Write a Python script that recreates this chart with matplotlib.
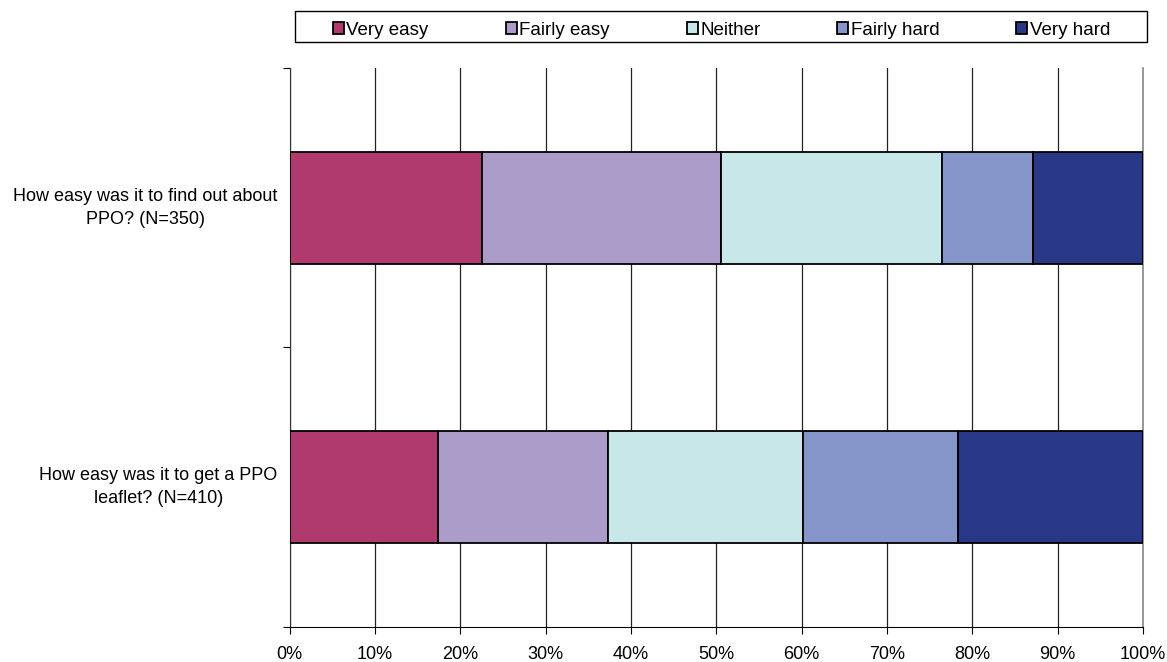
import matplotlib.pyplot as plt
from matplotlib.patches import Rectangle
import numpy as np

# survey responses, share of respondents (%)
questions = [
    "How easy was it to find out about\nPPO? (N=350)",
    "How easy was it to get a PPO\nleaflet? (N=410)",
]
answers = ["Very easy", "Fairly easy", "Neither", "Fairly hard", "Very hard"]
very_easy = [22.6, 17.4]
fairly_easy = [27.9, 19.9]
neither = [26.0, 22.9]
fairly_hard = [10.6, 18.1]
very_hard = [12.9, 21.7]
colors = ["#b03a6e", "#ac9cca", "#c8e7e9", "#8594c9", "#283886"]
xticks = np.arange(0, 101, 10)

plt.rcParams.update({
    "font.family": ["Liberation Sans", "DejaVu Sans"],
    "font.size": 13,
})

W, H = 1167, 662
fig = plt.figure(figsize=(W / 100, H / 100), dpi=100)
ax = fig.add_axes([289.5 / W, 0.0529, (1143 - 289.5) / W, 0.8444])

series = [very_easy, fairly_easy, neither, fairly_hard, very_hard]
ypos = np.arange(len(questions))
left = np.zeros(len(questions))
for name, vals, c in zip(answers, series, colors):
    ax.barh(ypos, vals, left=left, height=0.4, color=c,
            edgecolor="black", linewidth=1.3, label=name, zorder=3)
    left += np.array(vals)

ax.set_xlim(0, 100)
ax.set_ylim(len(questions) - 0.5, -0.5)
ax.set_xticks(xticks, labels=[f"{v}%" for v in xticks])
ax.set_yticks(np.arange(-0.5, len(questions)), labels=[])
ax.tick_params(axis="y", length=5, direction="out")
ax.tick_params(axis="x", length=5, direction="out", pad=9, labelsize=13)
ax.xaxis.grid(True, color="#222222", linewidth=0.9, zorder=0)

ax.spines["top"].set_visible(False)
ax.spines["right"].set_color("#888888")
ax.spines["right"].set_linewidth(1.2)
ax.spines["left"].set_color("#333333")
ax.spines["bottom"].set_color("black")

for y, q in zip(ypos, questions):
    ax.text(-0.014, y, q, transform=ax.get_yaxis_transform(),
            ha="right", va="center", multialignment="center",
            fontsize=13, linespacing=1.45)

# legend frame spans wider than the entries themselves
fig.patches.append(Rectangle((294.7 / W, 1 - 41.7 / H), (1147 - 294.7) / W,
                             30.7 / H, transform=fig.transFigure,
                             facecolor="white", edgecolor="black",
                             linewidth=1.0))
leg = fig.legend(loc="center left",
                 bbox_to_anchor=(333 / W, 1 - 30.5 / H, (1110 - 333) / W, 0),
                 mode="expand", ncol=5, frameon=False, borderpad=0,
                 borderaxespad=0, handlelength=0.6, handleheight=0.6,
                 handletextpad=0.12, fontsize=13.5)
for h in leg.legend_handles:
    h.set_linewidth(1.3)

fig.savefig("out.png", dpi=100)
